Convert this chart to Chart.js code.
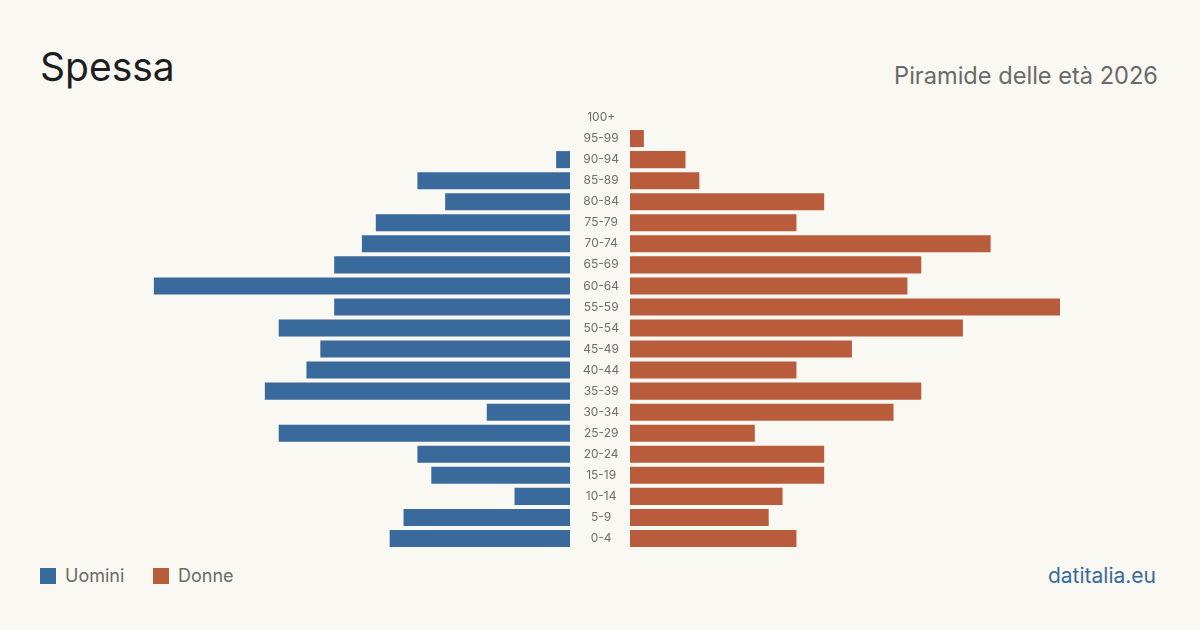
<!DOCTYPE html>
<html>
<head>
<meta charset="utf-8">
<script src="https://cdn.jsdelivr.net/npm/chart.js@4"></script>
<style>
  html, body { margin:0; padding:0; }
  body { width:1200px; height:630px; background:#f9f8f3; position:relative; overflow:hidden; font-family: Inter, "Noto Sans", sans-serif; }
  #title { position:absolute; left:40px; top:43px; font-size:39px; color:#1e1e1e; line-height:48px; }
  #subtitle { position:absolute; right:42px; top:61px; font-size:23.6px; color:#6a6a6a; line-height:30px; }
  #left { position:absolute; left:140px; top:107px; width:490px; height:442px; }
  #right { position:absolute; left:630px; top:107px; width:430px; height:442px; }
  .legend { position:absolute; top:566px; font-size:18px; color:#6a6a6a; line-height:20px; display:flex; align-items:center; }
  .sw { width:16px; height:16px; display:inline-block; margin-right:9px; }
  #brand { position:absolute; right:44px; top:563px; font-size:21px; color:#3a6a9c; line-height:26px; }
</style>
</head>
<body>
<div id="title">Spessa</div>
<div id="subtitle">Piramide delle età 2026</div>
<div id="left"><canvas id="cl"></canvas></div>
<div id="right"><canvas id="cr"></canvas></div>
<div class="legend" style="left:40px;"><span class="sw" style="background:#3a6a9c"></span>Uomini</div>
<div class="legend" style="left:153px;"><span class="sw" style="background:#b95c3c"></span>Donne</div>
<div id="brand">datitalia.eu</div>
<script>
const ageGroups = ["100+","95-99","90-94","85-89","80-84","75-79","70-74","65-69","60-64","55-59","50-54","45-49","40-44","35-39","30-34","25-29","20-24","15-19","10-14","5-9","0-4"];
const men   = [0,0,1,11,9,14,15,17,30,17,21,18,19,22,6,21,11,10,4,12,13];
const women = [0,1,4,5,14,12,26,21,20,31,24,16,12,21,19,9,14,14,11,10,12];
const seriesNames = ["Uomini","Donne"];
const colors = { men:"#3a6a9c", women:"#b95c3c" };
const maxVal = Math.max(...men, ...women);

Chart.defaults.font.family = 'Inter, "Noto Sans", sans-serif';
Chart.defaults.animation = false;

const common = {
  indexAxis:'y',
  responsive:true,
  maintainAspectRatio:false,
  animation:false,
  layout:{ padding:0 },
  plugins:{ legend:{display:false}, tooltip:{enabled:false} }
};

new Chart(document.getElementById('cl'), {
  type:'bar',
  data:{ labels:ageGroups, datasets:[{ label:seriesNames[0], data:men, backgroundColor:colors.men, barPercentage:0.81, categoryPercentage:1 }]},
  options:Object.assign({}, common, {
    scales:{
      x:{ display:false, reverse:true, min:0, max:maxVal },
      y:{ position:'right', grid:{display:false, drawTicks:false}, border:{display:false},
          ticks:{ color:'#6e6e6e', font:{size:12}, crossAlign:'center', padding:13, autoSkip:false },
          afterFit:(s)=>{ s.width = 60; s.paddingTop = 0; s.paddingBottom = 0; } }
    }
  })
});

new Chart(document.getElementById('cr'), {
  type:'bar',
  data:{ labels:ageGroups, datasets:[{ label:seriesNames[1], data:women, backgroundColor:colors.women, barPercentage:0.81, categoryPercentage:1 }]},
  options:Object.assign({}, common, {
    scales:{
      x:{ display:false, min:0, max:maxVal },
      y:{ display:false }
    }
  })
});
</script>
</body>
</html>
